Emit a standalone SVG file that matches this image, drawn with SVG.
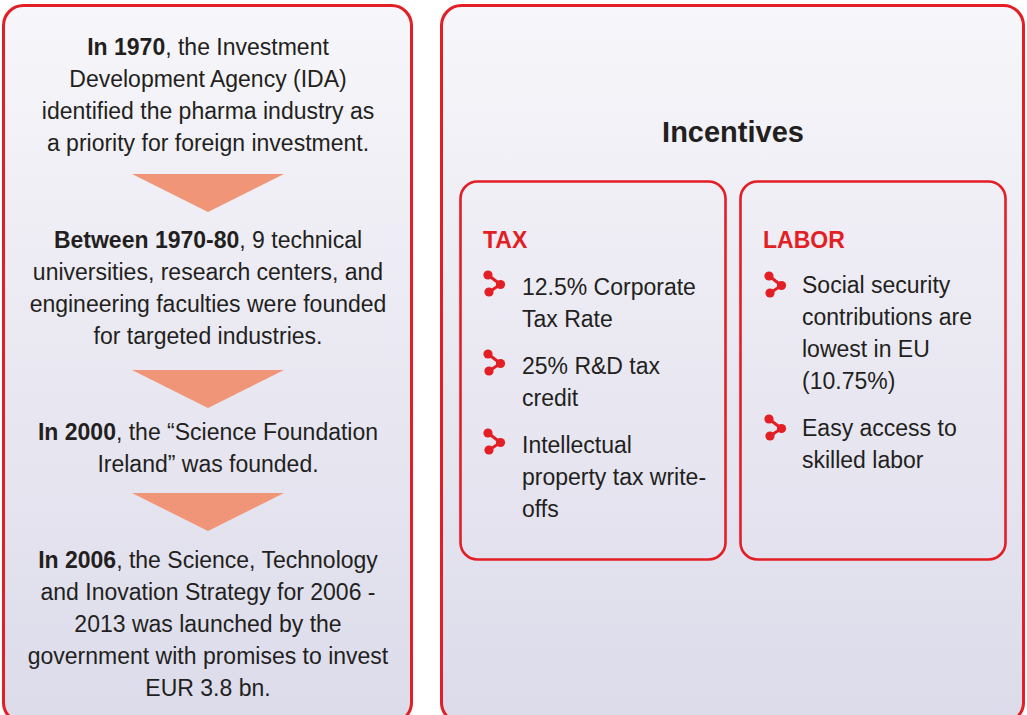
<svg xmlns="http://www.w3.org/2000/svg" width="1027" height="715" viewBox="0 0 1027 715">
  <defs>
    <linearGradient id="panelFill" x1="0" y1="0" x2="0" y2="1">
      <stop offset="0" stop-color="#f7f6fa"/>
      <stop offset="1" stop-color="#dcdbea"/>
    </linearGradient>
    <!-- three-dot share-style bullet -->
    <g id="bullet">
      <path d="M0,0 L12.5,9.5 L1,17" fill="none" stroke="#e31e24" stroke-width="3"/>
      <circle cx="0" cy="0" r="4.6" fill="#e31e24"/>
      <circle cx="12.5" cy="9.5" r="4.6" fill="#e31e24"/>
      <circle cx="1" cy="17" r="4.6" fill="#e31e24"/>
    </g>
  </defs>
  <style>
    .panel { fill: url(#panelFill); stroke: #e31e24; stroke-width: 3; }
    .box { fill: none; stroke: #e31e24; stroke-width: 2.6; }
    .step { fill: #f09577; }
    .txt { font-family: "Liberation Sans", Arial, sans-serif; font-size: 23px; fill: #231f20; }
    .mid { text-anchor: middle; }
    .b { font-weight: bold; }
    .head { font-family: "Liberation Sans", Arial, sans-serif; font-size: 23px; font-weight: bold; fill: #e31e24; }
    .title { font-family: "Liberation Sans", Arial, sans-serif; font-size: 29px; font-weight: bold; fill: #231f20; text-anchor: middle; }
  </style>

  <rect width="1027" height="715" fill="#ffffff"/>

  <!-- timeline panel -->
  <g id="timeline">
    <rect class="panel" x="3.5" y="5.5" width="408" height="717" rx="20"/>
    <g id="step-1970">
      <text class="txt mid" x="208" y="55"><tspan class="b">In 1970</tspan>, the Investment</text>
      <text class="txt mid" x="208" y="87">Development Agency (IDA)</text>
      <text class="txt mid" x="208" y="119">identified the pharma industry as</text>
      <text class="txt mid" x="208" y="151">a priority for foreign investment.</text>
    </g>
    <g id="step-1980">
      <text class="txt mid" x="208" y="248"><tspan class="b">Between 1970-80</tspan>, 9 technical</text>
      <text class="txt mid" x="208" y="280">universities, research centers, and</text>
      <text class="txt mid" x="208" y="312">engineering faculties were founded</text>
      <text class="txt mid" x="208" y="344">for targeted industries.</text>
    </g>
    <g id="step-2000">
      <text class="txt mid" x="208" y="440"><tspan class="b">In 2000</tspan>, the “Science Foundation</text>
      <text class="txt mid" x="208" y="472">Ireland” was founded.</text>
    </g>
    <g id="step-2006">
      <text class="txt mid" x="208" y="568"><tspan class="b">In 2006</tspan>, the Science, Technology</text>
      <text class="txt mid" x="208" y="600">and Inovation Strategy for 2006 -</text>
      <text class="txt mid" x="208" y="632">2013 was launched by the</text>
      <text class="txt mid" x="208" y="664">government with promises to invest</text>
      <text class="txt mid" x="208" y="696">EUR 3.8 bn.</text>
    </g>
  </g>

  <!-- downward step arrows -->
  <g id="connectors">
    <polygon class="step" points="132,174 284,174 208,212"/>
    <polygon class="step" points="132,370 284,370 208,408"/>
    <polygon class="step" points="132,493 284,493 208,531"/>
  </g>

  <!-- incentives panel -->
  <g id="incentives">
    <rect class="panel" x="441.5" y="5.5" width="582" height="717" rx="20"/>
    <text class="title" x="733" y="142">Incentives</text>

    <g id="tax">
      <rect class="box" x="460.5" y="181.5" width="265" height="378" rx="17"/>
      <text class="head" x="483" y="248">TAX</text>
      <use href="#bullet" x="488" y="275"/>
      <text class="txt" x="522" y="295">12.5% Corporate</text>
      <text class="txt" x="522" y="327">Tax Rate</text>
      <use href="#bullet" x="488" y="354"/>
      <text class="txt" x="522" y="374">25% R&amp;D tax</text>
      <text class="txt" x="522" y="406">credit</text>
      <use href="#bullet" x="488" y="433"/>
      <text class="txt" x="522" y="453">Intellectual</text>
      <text class="txt" x="522" y="485">property tax write-</text>
      <text class="txt" x="522" y="517">offs</text>
    </g>

    <g id="labor">
      <rect class="box" x="740.5" y="181.5" width="265" height="378" rx="17"/>
      <text class="head" x="763" y="248">LABOR</text>
      <use href="#bullet" x="769" y="276"/>
      <text class="txt" x="802" y="293">Social security</text>
      <text class="txt" x="802" y="325">contributions are</text>
      <text class="txt" x="802" y="357">lowest in EU</text>
      <text class="txt" x="802" y="389">(10.75%)</text>
      <use href="#bullet" x="769" y="419"/>
      <text class="txt" x="802" y="436">Easy access to</text>
      <text class="txt" x="802" y="468">skilled labor</text>
    </g>
  </g>
</svg>
